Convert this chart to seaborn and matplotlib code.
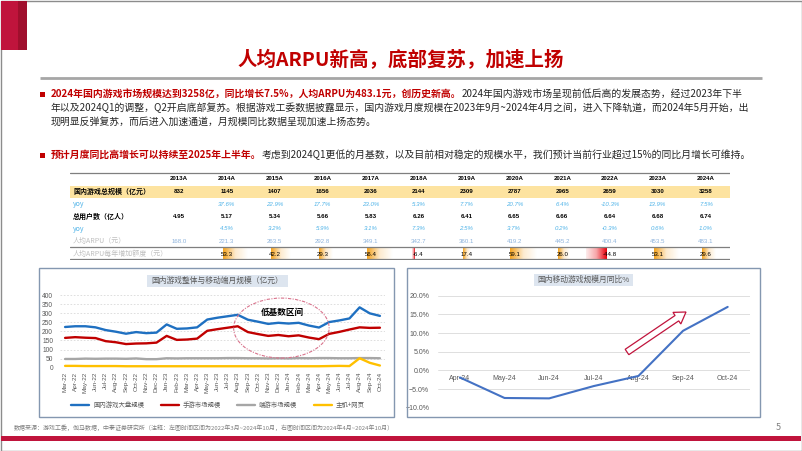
import numpy as np
import pandas as pd
import matplotlib
matplotlib.use('Agg')
import matplotlib.pyplot as plt
import seaborn as sns
from matplotlib.patches import Rectangle, Ellipse, FancyArrow
from matplotlib.colors import LinearSegmentedColormap
from matplotlib.ticker import PercentFormatter, MultipleLocator

# ---------------- data ----------------
years = ['2013A', '2014A', '2015A', '2016A', '2017A', '2018A', '2019A', '2020A', '2021A', '2022A', '2023A', '2024A']
market_size = ['832', '1145', '1407', '1656', '2036', '2144', '2309', '2787', '2965', '2659', '3030', '3258']
market_yoy = ['', '37.6%', '22.9%', '17.7%', '23.0%', '5.3%', '7.7%', '20.7%', '6.4%', '-10.3%', '13.9%', '7.5%']
users = ['4.95', '5.17', '5.34', '5.66', '5.83', '6.26', '6.41', '6.65', '6.66', '6.64', '6.68', '6.74']
users_yoy = ['', '4.5%', '3.2%', '5.9%', '3.1%', '7.3%', '2.5%', '3.7%', '0.2%', '-0.3%', '0.6%', '1.0%']
arpu = ['168.0', '221.3', '263.5', '292.8', '349.1', '342.7', '360.1', '419.2', '445.2', '400.4', '453.5', '483.1']
arpu_inc = [None, 53.3, 42.2, 29.3, 56.4, -6.4, 17.4, 59.1, 26.0, -44.8, 53.1, 29.6]
row_labels = ['国内游戏总规模（亿元）', 'yoy', '总用户数（亿人）', 'yoy', '人均ARPU（元）', '人均ARPU每年增加额度（元）']

months = ['Mar-22', 'Apr-22', 'May-22', 'Jun-22', 'Jul-22', 'Aug-22', 'Sep-22', 'Oct-22', 'Nov-22', 'Dec-22',
          'Jan-23', 'Feb-23', 'Mar-23', 'Apr-23', 'May-23', 'Jun-23', 'Jul-23', 'Aug-23', 'Sep-23', 'Oct-23',
          'Nov-23', 'Dec-23', 'Jan-24', 'Feb-24', 'Mar-24', 'Apr-24', 'May-24', 'Jun-24', 'Jul-24', 'Aug-24',
          'Sep-24', 'Oct-24']
total = [224, 228, 228, 222, 207, 198, 187, 196, 190, 193, 238, 214, 216, 222, 265, 275, 283, 291, 264, 253,
         241, 247, 243, 247, 232, 221, 251, 260, 271, 332, 299, 285]
mobile = [164, 168, 165, 163, 146, 140, 130, 133, 134, 138, 175, 153, 155, 160, 203, 212, 220, 228, 196, 185,
          175, 180, 173, 178, 166, 157, 186, 197, 210, 222, 219, 220]
client = [48, 48, 50, 49, 50, 50, 49, 51, 47, 47, 52, 51, 52, 52, 52, 52, 53, 53, 52, 52,
          51, 52, 51, 53, 52, 53, 53, 52, 52, 53, 53, 52]
console = [10, 10, 9, 9, 9, 9, 8, 8, 8, 8, 8, 8, 8, 8, 8, 8, 8, 8, 8, 8,
           8, 8, 8, 8, 8, 8, 9, 10, 9, 52, 27, 12]
series_names = ['国内游戏大盘规模', '手游市场规模', '端游市场规模', '主机+网页']
series_colors = ['#1F70C1', '#C00000', '#A6A6A6', '#FFC000']

yoy_months = ['Apr-24', 'May-24', 'Jun-24', 'Jul-24', 'Aug-24', 'Sep-24', 'Oct-24']
mobile_yoy = [-0.019, -0.074, -0.075, -0.042, -0.015, 0.106, 0.170]

# ---------------- figure ----------------
sns.set_theme(style='white')
plt.rcParams['font.family'] = ['Noto Sans CJK SC', 'DejaVu Sans']

W, H = 802, 451
fig = plt.figure(figsize=(W / 100, H / 100), dpi=100)


def box(x0, y0, x1, y1):
    return [x0 / W, 1 - y1 / H, (x1 - x0) / W, (y1 - y0) / H]


RED = '#C00000'
TXT = '#262626'

# ---------------- table ----------------
col0, colstep = 179.0, 47.9
row0, rowstep = 179.0, 12.5
tx0, tx1, ty0, ty1 = 70, 730, 172, 260
ax_t = fig.add_axes(box(tx0, ty0, tx1, ty1))
xl = ((tx0 - col0) / colstep, (tx1 - col0) / colstep)
yl = ((ty1 - row0) / rowstep, (ty0 - row0) / rowstep)
ax_t.axis('off')

ax_t.axhspan(0.55, 1.55, color='#FDE3A0', zorder=0, lw=0)
for yv in [yl[1] + 0.04, 5.44, yl[0] - 0.06]:
    ax_t.axhline(yv, color='#7F7F7F', lw=0.9, zorder=3)

num_font = ['Liberation Sans', 'Noto Sans CJK SC']
fs_num = 4.4
lab_x = (73 - col0) / colstep
for i, yr in enumerate(years):
    ax_t.text(i, 0, yr, ha='center', va='center', fontsize=fs_num, fontweight='bold', family=num_font, color='black')
    ax_t.text(i, 1, market_size[i], ha='center', va='center', fontsize=fs_num, fontweight='bold', family=num_font, color='black')
    ax_t.text(i, 2, market_yoy[i], ha='center', va='center', fontsize=fs_num, style='italic', family=num_font, color='#4FB3E8')
    ax_t.text(i, 3, users[i], ha='center', va='center', fontsize=fs_num, fontweight='bold', family=num_font, color='black')
    ax_t.text(i, 4, users_yoy[i], ha='center', va='center', fontsize=fs_num, style='italic', family=num_font, color='#4FB3E8')
    ax_t.text(i, 5, arpu[i], ha='center', va='center', fontsize=fs_num, family=num_font, color='#8DB3DC')
    if arpu_inc[i] is not None:
        ax_t.text(i, 6, f'{arpu_inc[i]:.1f}', ha='center', va='center', fontsize=fs_num, family=num_font, color='black', zorder=4)

lab_styles = [dict(fontweight='bold', color='black', style='normal'),
              dict(fontweight='normal', color='#4FB3E8', style='italic'),
              dict(fontweight='bold', color='black', style='italic'),
              dict(fontweight='normal', color='#4FB3E8', style='italic'),
              dict(fontweight='normal', color='#BFBFBF', style='italic'),
              dict(fontweight='normal', color='#BFBFBF', style='italic')]
for r, (lab, st) in enumerate(zip(row_labels, lab_styles), start=1):
    ax_t.text(lab_x, r, lab, ha='left', va='center', fontsize=5.0, **st)

# data bars
k = 0.0095
grad = np.linspace(0, 1, 64).reshape(1, -1)
cm_pos = LinearSegmentedColormap.from_list('pos', ['#F5A420', '#FDEBD0', '#FFFFFF'])
cm_neg = LinearSegmentedColormap.from_list('neg', ['#E8000B', '#F7A5A8', '#FDECEC'])
for i, v in enumerate(arpu_inc):
    if v is None:
        continue
    x0 = i - 0.08
    w = v * k
    ax_t.imshow(grad, extent=[x0, x0 + w, 6.43, 5.47], aspect='auto',
                cmap=cm_pos if v >= 0 else cm_neg, interpolation='bilinear', zorder=1)
ax_t.set_xlim(*xl)
ax_t.set_ylim(*yl)

# ---------------- left chart ----------------
ax_l = fig.add_axes(box(60, 295, 385, 367.7))
df = pd.DataFrame({'x': list(range(len(months))) * 4,
                   'value': total + mobile + client + console,
                   'series': sum([[n] * len(months) for n in series_names], [])})
sns.lineplot(data=df, x='x', y='value', hue='series', hue_order=series_names,
             palette=series_colors, lw=1.7, ax=ax_l, sort=False)
ax_l.set_xlim(-0.5, len(months) - 0.5)
ax_l.set_ylim(0, 400)
ax_l.yaxis.set_major_locator(MultipleLocator(50))
ax_l.set_xticks(range(len(months)))
ax_l.set_xticklabels(months, rotation=90, fontsize=4.6, color='#595959', family=num_font)
ax_l.tick_params(axis='y', labelsize=4.8, labelcolor='#595959', length=0, pad=5)
ax_l.tick_params(axis='x', length=0, pad=3)
for lab in ax_l.get_yticklabels():
    lab.set_family(num_font)
ax_l.set_xlabel('')
ax_l.set_ylabel('')
for s in ax_l.spines.values():
    s.set_visible(False)
ax_l.grid(axis='y', color='#D9D9D9', lw=0.6, linestyle=(0, (2, 2)))
ax_l.set_facecolor('none')
handles, labels = ax_l.get_legend_handles_labels()
ax_l.legend(handles, labels, loc='center', bbox_to_anchor=(218 / W, 1 - 405 / H),
            bbox_transform=fig.transFigure, ncol=4, frameon=False, fontsize=4.6,
            handlelength=2.8, columnspacing=2.6, handletextpad=0.6, labelcolor='#595959')
ax_l.add_patch(Ellipse((21.3, 218), 9.4, 330, fill=False, ec='#D9738C', lw=0.8,
                       linestyle=(0, (3, 1.2, 1, 1.2)), clip_on=False, zorder=5))
ax_l.text(21.4, 306, '低基数区间', ha='center', va='center', fontsize=6.2, fontweight='bold', color='black')

# ---------------- right chart ----------------
ax_r = fig.add_axes(box(437.6, 295.7, 750, 407.7))
dfr = pd.DataFrame({'x': range(len(yoy_months)), 'yoy': mobile_yoy})
sns.lineplot(data=dfr, x='x', y='yoy', color='#4472C4', lw=1.5, ax=ax_r)
ax_r.spines['bottom'].set_position(('data', 0))
for s in ax_r.spines.values():
    s.set_visible(False)
ax_r.set_xlim(-0.5, len(yoy_months) - 0.5)
ax_r.set_ylim(-0.10, 0.20)
ax_r.yaxis.set_major_locator(MultipleLocator(0.05))
ax_r.yaxis.set_major_formatter(PercentFormatter(1.0, decimals=1))
ax_r.set_xticks(range(len(yoy_months)))
ax_r.set_xticklabels(yoy_months, fontsize=5.0, color='#595959', family=num_font)
ax_r.tick_params(axis='x', length=0, pad=3)
ax_r.tick_params(axis='y', labelsize=5.0, labelcolor='#595959', length=0, pad=6)
for lab in ax_r.get_yticklabels():
    lab.set_family(num_font)
ax_r.grid(axis='y', color='#D9D9D9', lw=0.6)
ax_r.set_xlabel('')
ax_r.set_ylabel('')
ax_r.set_facecolor('none')

# ---------------- overlay (slide decorations) ----------------
ov = fig.add_axes([0, 0, 1, 1])
ov.set_xlim(0, W)
ov.set_ylim(H, 0)
ov.axis('off')
ov.set_facecolor('none')
ov.add_patch(Rectangle((0.5, 0.5), W - 1, H - 1, fill=False, ec='#8C8C8C', lw=1))
ov.add_patch(Rectangle((1, 1), 17, 49, color='#C0143C', lw=0))
ov.add_patch(Rectangle((18, 1), 9, 49, color='#A00F2D', lw=0))
ov.text(401, 60, '人均ARPU新高，底部复苏，加速上扬', ha='center', va='center', fontsize=14,
        fontweight='bold', color=RED)
ov.plot([40, 762], [77.5, 77.5], color='#A6A6A6', lw=2, solid_capstyle='butt')

# paragraphs
rend = fig.canvas.get_renderer()


def mixed_line(x, y, parts, size=7.1):
    for txt, color, weight in parts:
        t = ov.text(x, y, txt, color=color, fontsize=size, fontweight=weight, va='center', ha='left')
        bb = t.get_window_extent(renderer=rend)
        x += bb.width


ov.add_patch(Rectangle((40, 91.5), 5, 5, color=RED, lw=0))
mixed_line(51, 94, [('2024年国内游戏市场规模达到3258亿，同比增长7.5%，人均ARPU为483.1元，创历史新高。', RED, 'bold'),
                    ('2024年国内游戏市场呈现前低后高的发展态势，经过2023年下半', TXT, 'normal')])
mixed_line(51, 108, [('年以及2024Q1的调整，Q2开启底部复苏。根据游戏工委数据披露显示，国内游戏月度规模在2023年9月~2024年4月之间，进入下降轨道，而2024年5月开始，出', TXT, 'normal')])
mixed_line(51, 122, [('现明显反弹复苏，而后进入加速通道，月规模同比数据呈现加速上扬态势。', TXT, 'normal')])
ov.add_patch(Rectangle((40, 152.5), 5, 5, color=RED, lw=0))
mixed_line(51, 155, [('预计月度同比高增长可以持续至2025年上半年。', RED, 'bold'),
                     ('考虑到2024Q1更低的月基数，以及目前相对稳定的规模水平，我们预计当前行业超过15%的同比月增长可维持。', TXT, 'normal')])

# chart frames and titles
ov.add_patch(Rectangle((39, 268), 355, 149, fill=False, ec='#8497B0', lw=1))
ov.add_patch(Rectangle((407, 268), 353, 149, fill=False, ec='#8497B0', lw=1))
ov.add_patch(Rectangle((147, 275), 141, 12, color='#DDE5EF', lw=0))
ov.text(217.5, 281, '国内游戏整体与移动端月规模（亿元）', ha='center', va='center', fontsize=5.6, color='#595959')
ov.add_patch(Rectangle((534, 274), 99, 12, color='#DDE5EF', lw=0))
ov.text(583.5, 280, '国内移动游戏规模月同比%', ha='center', va='center', fontsize=5.6, color='#595959')

# arrow
ov.add_patch(FancyArrow(627, 352, 59, -40, width=6.5, head_width=14, head_length=11,
                        length_includes_head=True, fc='white', ec='#C0143C', lw=0.9))

# footer
ov.text(14, 428, '数据来源：游戏工委，伽马数据，中泰证券研究所（注释：左图时间区间为2022年3月~2024年10月，右图时间区间为2024年4月~2024年10月）',
        ha='left', va='center', fontsize=4.3, color='#7F7F7F')
ov.text(778, 428, '5', ha='center', va='center', fontsize=6.5, color='#7F7F7F')
ov.add_patch(Rectangle((1, 436), W - 2, 5, color='#C0143C', lw=0))

fig.savefig('out.png', dpi=100)
